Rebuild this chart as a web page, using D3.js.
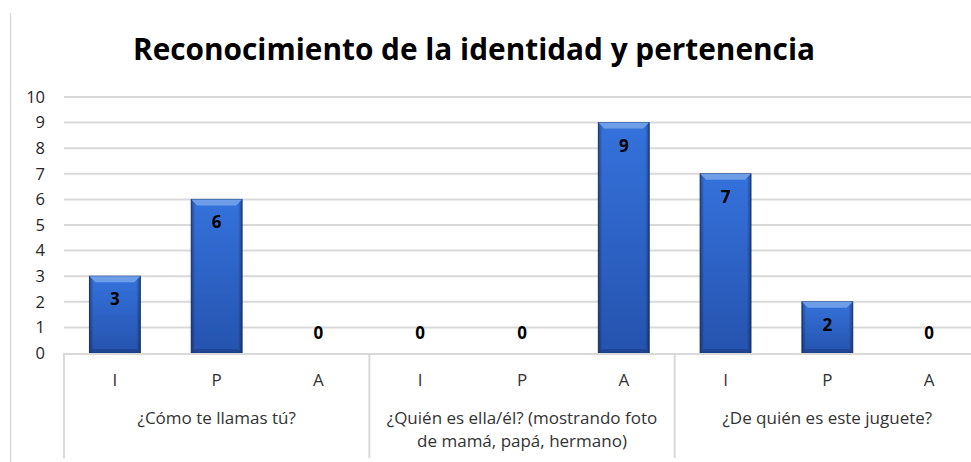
<!DOCTYPE html>
<html><head><meta charset="utf-8">
<script src="https://cdn.jsdelivr.net/npm/d3@7"></script>
<style>body{margin:0;background:#fff;overflow:hidden}svg{display:block}</style>
</head><body>
<svg id="c" width="971" height="462"></svg>
<script>
const title = "Reconocimiento de la identidad y pertenencia";
const groups = ["¿Cómo te llamas tú?", "¿Quién es ella/él? (mostrando foto\nde mamá, papá, hermano)", "¿De quién es este juguete?"];
const levels = ["I", "P", "A"];
const values = [3, 6, 0, 0, 0, 9, 7, 2, 0];
const yTicks = [0,1,2,3,4,5,6,7,8,9,10];

(function(){
const svg = d3.select("#c");
const pL = 64, pR = 980, pT = 97, pB = 353;
const font = "'Open Sans', 'Liberation Sans', sans-serif";

const items = [];
groups.forEach((g, gi) => levels.forEach((l, li) => items.push({key: gi + "-" + l, level: l, group: gi, value: values[gi*3+li]})));

const x = d3.scaleBand().domain(items.map(d => d.key)).range([pL, pR]).paddingInner(0.5).paddingOuter(0.25);
const y = d3.scaleLinear().domain([0, 10]).range([pB, pT]);
const slot = x.step();

// chart frame (left edge only visible)
svg.append("line").attr("x1", 10.5).attr("x2", 10.5).attr("y1", 13).attr("y2", 470)
  .attr("stroke", "#d9d9d9").attr("stroke-width", 1.5);

// title
svg.append("text").attr("x", 474).attr("y", 60).attr("text-anchor", "middle")
  .attr("font-family", font).attr("font-weight", "bold").attr("font-size", 31)
  .attr("textLength", 682).attr("lengthAdjust", "spacingAndGlyphs")
  .attr("fill", "#000").text(title);

// gridlines
svg.append("g").selectAll("line").data(yTicks.filter(t => t > 0)).join("line")
  .attr("x1", pL).attr("x2", pR).attr("y1", d => y(d)).attr("y2", d => y(d))
  .attr("stroke", "#d9d9d9").attr("stroke-width", 2);

// y axis labels
const yAxis = d3.axisLeft(y).tickValues(yTicks).tickSize(0).tickPadding(0);
const ya = svg.append("g").attr("transform", `translate(${pL - 19},0)`).call(yAxis);
ya.select(".domain").remove();
ya.selectAll("text").attr("font-family", font).attr("font-size", 16.5).attr("fill", "#262626");

// defs for bars
const defs = svg.append("defs");
const g1 = defs.append("linearGradient").attr("id", "bodyG").attr("x1", 0).attr("x2", 0).attr("y1", 0).attr("y2", 1);
g1.append("stop").attr("offset", "0%").attr("stop-color", "#3572dc");
g1.append("stop").attr("offset", "100%").attr("stop-color", "#2553ae");
const g2 = defs.append("linearGradient").attr("id", "sideG").attr("x1", 0).attr("x2", 1).attr("y1", 0).attr("y2", 0);
g2.append("stop").attr("offset", "0%").attr("stop-color", "#000").attr("stop-opacity", 0.35);
g2.append("stop").attr("offset", "8%").attr("stop-color", "#000").attr("stop-opacity", 0.0);
g2.append("stop").attr("offset", "92%").attr("stop-color", "#000").attr("stop-opacity", 0.0);
g2.append("stop").attr("offset", "100%").attr("stop-color", "#000").attr("stop-opacity", 0.35);

const bars = svg.append("g").selectAll("g").data(items.filter(d => d.value > 0)).join("g");
bars.append("rect").attr("x", d => x(d.key)).attr("y", d => y(d.value))
  .attr("width", x.bandwidth()).attr("height", d => y(0) - y(d.value))
  .attr("fill", "url(#bodyG)").attr("stroke", "#1d3f86").attr("stroke-width", 1);
bars.append("rect").attr("x", d => x(d.key)).attr("y", d => y(d.value))
  .attr("width", x.bandwidth()).attr("height", d => y(0) - y(d.value))
  .attr("fill", "url(#sideG)");
const bev = 6;
bars.append("path").attr("d", d => {
  const x0 = x(d.key), x1 = x0 + x.bandwidth(), yt = y(d.value);
  return `M${x0},${yt}L${x1},${yt}L${x1-bev},${yt+bev}L${x0+bev},${yt+bev}Z`;
}).attr("fill", "#6e9ee8");
bars.append("path").attr("d", d => {
  const x0 = x(d.key), x1 = x0 + x.bandwidth(), yb = y(0);
  return `M${x0},${yb}L${x1},${yb}L${x1-4},${yb-4}L${x0+4},${yb-4}Z`;
}).attr("fill", "#1c3d82").attr("opacity", 0.6);

// data labels
svg.append("g").selectAll("text").data(items).join("text")
  .attr("x", d => x(d.key) + x.bandwidth() / 2)
  .attr("y", d => d.value > 0 ? y(d.value) + 29 : y(0) - 14)
  .attr("text-anchor", "middle").attr("font-family", font).attr("font-weight", "bold")
  .attr("font-size", 17).attr("fill", "#000").text(d => d.value);

// category axis
svg.append("line").attr("x1", pL).attr("x2", pR).attr("y1", pB + 1).attr("y2", pB + 1)
  .attr("stroke", "#d9d9d9").attr("stroke-width", 2);
const seps = [0, 3, 6];
svg.append("g").selectAll("line").data(seps).join("line")
  .attr("x1", d => x(items[d].key) - slot * 0.25)
  .attr("x2", d => x(items[d].key) - slot * 0.25)
  .attr("y1", pB).attr("y2", 458).attr("stroke", "#d9d9d9").attr("stroke-width", 2);

svg.append("g").selectAll("text").data(items).join("text")
  .attr("x", d => x(d.key) + x.bandwidth() / 2).attr("y", 386)
  .attr("text-anchor", "middle").attr("font-family", font).attr("font-size", 17)
  .attr("fill", "#333").text(d => d.level);

groups.forEach((g, gi) => {
  const cx = x(items[gi*3+1].key) + x.bandwidth() / 2;
  const t = svg.append("text").attr("x", cx).attr("y", 424).attr("text-anchor", "middle")
    .attr("font-family", font).attr("font-size", 17).attr("fill", "#333");
  g.split("\n").forEach((line, i) => t.append("tspan").attr("x", cx).attr("dy", i ? 23 : 0).text(line));
});
})();
</script>
</body></html>
